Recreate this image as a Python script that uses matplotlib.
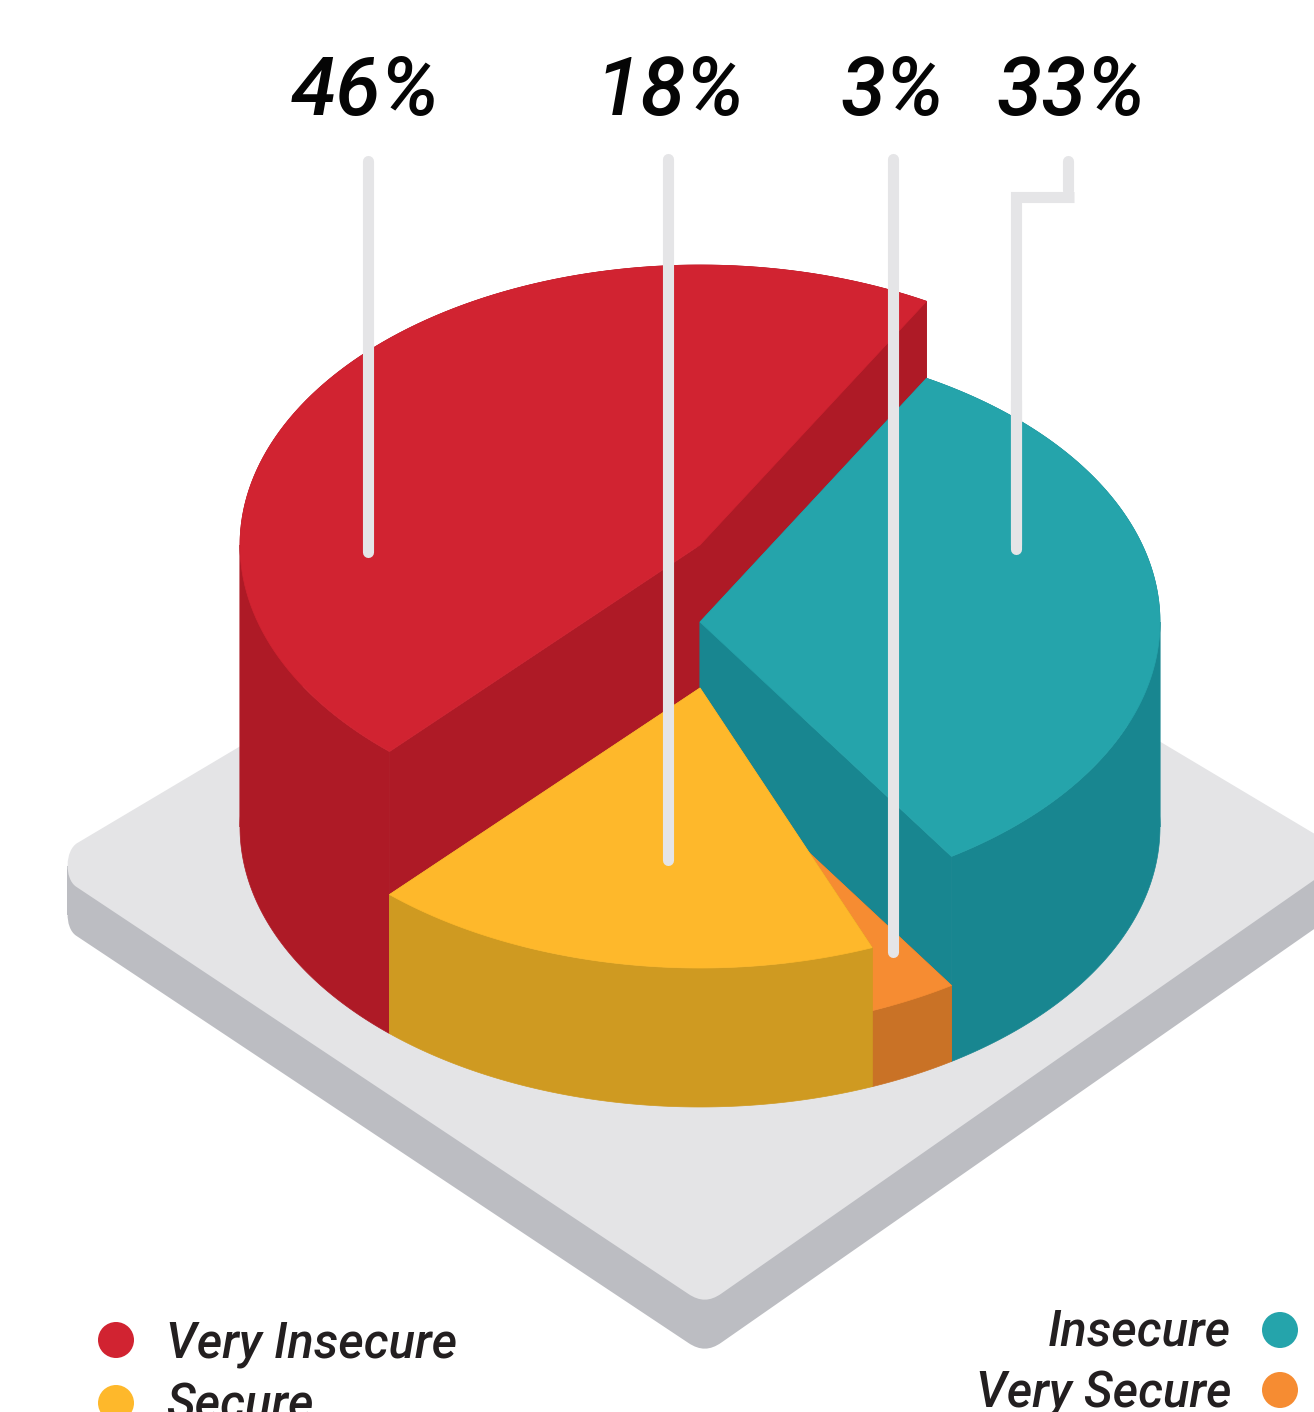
import numpy as np
import matplotlib.pyplot as plt
from matplotlib.path import Path
from matplotlib.patches import PathPatch, Circle

plt.rcParams['font.family'] = ['Roboto', 'DejaVu Sans']

# --- Data ---
categories = ['Very Insecure', 'Secure', 'Very Secure', 'Insecure']
label_values = [46, 18, 3, 33]
# slice sizes as they are actually drawn, the sweep is a bit off the printed numbers
drawn_shares = [46.4, 17.9, 3.1, 32.6]
top_colors = ['#D12331', '#FEB82B', '#F68C32', '#25A4AB']
wall_colors = ['#AE1A26', '#CF9A21', '#C97226', '#188690']

# --- Pie geometry (pixels) ---
cx, base_y = 700, 827
rx, ry = 460, 280
start_angle = 60.5
slice_heights = [282, 139, 76, 205]   # red is tallest, orange lowest
draw_order = [0, 3, 2, 1]             # back to front


def arc(a0, a1, y0):
    t = np.radians(np.linspace(a0, a1, 120))
    return cx + rx * np.cos(t), y0 - ry * np.sin(t)


def poly(x, y, color, z):
    ax.fill(x, y, facecolor=color, edgecolor=color, linewidth=0.5, zorder=z)


def rounded_diamond(corners, cuts, pulls, dy=0):
    # corners are sharp points, cuts say where the rounding starts along each edge,
    # pulls how far the bezier handles reach towards the sharp point
    verts, codes = [], []
    n = len(corners)
    for i in range(n):
        p = np.array(corners[i], float)
        a = np.array(corners[i - 1], float)
        b = np.array(corners[(i + 1) % n], float)
        p0 = p + (a - p) / np.linalg.norm(a - p) * cuts[i]
        p1 = p + (b - p) / np.linalg.norm(b - p) * cuts[i]
        c0 = p0 + (p - p0) * pulls[i]
        c1 = p1 + (p - p1) * pulls[i]
        verts += [p0, c0, c1, p1]
        codes += [Path.MOVETO if i == 0 else Path.LINETO, Path.CURVE4, Path.CURVE4, Path.CURVE4]
    verts.append(verts[0])
    codes.append(Path.CLOSEPOLY)
    verts = np.array(verts) + [0, dy]
    return Path(verts, codes)


fig = plt.figure(figsize=(13.14, 14.12), dpi=100)
ax = fig.add_axes([0, 0, 1, 1])
ax.set_xlim(0, 1314)
ax.set_ylim(1412, 0)
ax.axis('off')

# --- Base plate ---
plate_corners = [(42, 864), (705, 1305), (1350, 855), (705, 470)]
plate_cuts = [41, 20, 41, 41]
plate_pulls = [0.35, 0.7, 0.35, 0.35]
plate_depth = 49
ax.add_patch(PathPatch(rounded_diamond(plate_corners, plate_cuts, plate_pulls, plate_depth),
                       facecolor='#BCBDC2', edgecolor='none', zorder=1))
ax.fill([67, 1340, 1340, 67], [866, 866, 866 + plate_depth, 866 + plate_depth],
        color='#BCBDC2', linewidth=0, zorder=1)
ax.add_patch(PathPatch(rounded_diamond(plate_corners, plate_cuts, plate_pulls),
                       facecolor='#E4E4E6', edgecolor='none', zorder=2))

# --- Pie slices ---
total = sum(drawn_shares)
edges = start_angle + np.cumsum([0] + drawn_shares) * 360 / total

z = 3
for i in draw_order:
    a0, a1 = edges[i], edges[i + 1]
    top_y = base_y - slice_heights[i]

    # outer wall, split where the ellipse turns so the strip doesn't fold over itself
    stops = [a0] + [s for s in (180, 360) if a0 < s < a1] + [a1]
    for s0, s1 in zip(stops[:-1], stops[1:]):
        xt, yt = arc(s0, s1, top_y)
        xb, yb = arc(s0, s1, base_y)
        poly(np.r_[xt, xb[::-1]], np.r_[yt, yb[::-1]], wall_colors[i], z)

    xt, yt = arc(a0, a1, top_y)
    xb, yb = arc(a0, a1, base_y)
    # cut faces
    for x_end, y_end, y_low in [(xt[0], yt[0], yb[0]), (xt[-1], yt[-1], yb[-1])]:
        poly([cx, x_end, x_end, cx], [top_y, y_end, y_low, base_y], wall_colors[i], z)
    # top
    poly(np.r_[cx, xt], np.r_[top_y, yt], top_colors[i], z + 1)
    z += 2

# --- Leader lines ---
line_color = '#E5E5E7'
line_w = 8
leaders = [
    ([368, 368], [161, 552]),
    ([668, 668], [159, 860]),
    ([893, 893], [159, 952]),
]
for lx, ly in leaders:
    ax.plot(lx, ly, color=line_color, lw=line_w, solid_capstyle='round', zorder=20)
ax.plot([1068, 1068], [161, 190], color=line_color, lw=line_w,
        solid_capstyle='round', zorder=20)
ax.plot([1073.5, 1016, 1016], [197, 197, 545], color=line_color, lw=line_w,
        solid_capstyle='butt', solid_joinstyle='miter', zorder=20)
ax.plot([1016, 1016], [400, 549], color=line_color, lw=line_w,
        solid_capstyle='round', zorder=20)

# --- Percent labels ---
label_x = [365.5, 669.5, 892, 1071]
for v, lx in zip(label_values, label_x):
    ax.text(lx, 115, f'{v}%', fontsize=59, style='italic', fontweight='medium',
            color='#050505', ha='center', va='baseline', zorder=21)

# --- Legend ---
legend_left = [(0, 116, 1340, 1358), (1, 116, 1403, 1420)]
legend_right = [(3, 1280, 1330, 1346), (2, 1280, 1390, 1408)]
for i, dot_x, dot_y, text_y in legend_left:
    ax.add_patch(Circle((dot_x, dot_y), 18, color=top_colors[i], lw=0, zorder=5))
    ax.text(166, text_y, categories[i], fontsize=35.2, style='italic', fontweight='medium',
            color='#231F20', ha='left', va='baseline')
for i, dot_x, dot_y, text_y in legend_right:
    ax.add_patch(Circle((dot_x, dot_y), 18, color=top_colors[i], lw=0, zorder=5))
    ax.text(1231, text_y, categories[i], fontsize=35.2, style='italic', fontweight='medium',
            color='#231F20', ha='right', va='baseline')

fig.savefig('out.png', dpi=100)
